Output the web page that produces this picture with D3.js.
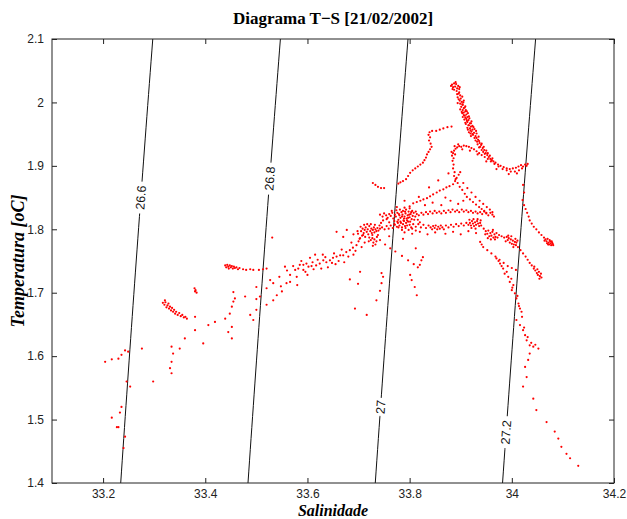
<!DOCTYPE html>
<html>
<head>
<meta charset="utf-8">
<script src="https://cdn.jsdelivr.net/npm/d3@7"></script>
<style>
  html, body { margin: 0; padding: 0; background: #fff; }
  svg { display: block; }
</style>
</head>
<body>
<div id="chart"></div>
<script>
// T-S diagram, 21/02/2002
const salTicks = [33.2, 33.4, 33.6, 33.8, 34, 34.2];
const tempTicks = [1.4, 1.5, 1.6, 1.7, 1.8, 1.9, 2, 2.1];
const isoLevels = [26.6, 26.8, 27, 27.2];
const isoLabelTemps = [1.85, 1.88, 1.52, 1.48];

// [salinity, temperature] pairs grouped by water mass feature
const peakBranch = [
  [33.883,2.028],[33.887,2.030],[33.891,2.029],[33.895,2.026],[33.885,2.024],[33.889,2.025],[33.893,2.022],[33.897,2.021],[33.887,2.020],[33.892,2.018],
  [33.896,2.014],[33.899,2.011],[33.894,2.008],[33.900,2.006],[33.898,2.003],[33.902,2.001],[33.899,1.998],[33.904,1.996],[33.901,1.993],[33.906,1.991],
  [33.904,1.988],[33.909,1.986],[33.906,1.984],[33.911,1.981],[33.908,1.979],[33.913,1.977],[33.911,1.974],[33.915,1.972],[33.913,1.969],[33.918,1.967],
  [33.916,1.964],[33.920,1.962],[33.918,1.959],[33.923,1.957],[33.921,1.954],[33.926,1.952],[33.924,1.949],[33.929,1.947],
  [33.905,2.000],[33.909,1.994],[33.912,1.986],[33.903,1.983],[33.916,1.978],[33.907,1.973],[33.921,1.970],[33.910,1.966],[33.925,1.961],[33.914,1.957],[33.930,1.955],[33.919,1.951],
  [33.931,1.944],[33.934,1.941],[33.932,1.938],[33.937,1.936],[33.940,1.933],[33.938,1.930],[33.943,1.928],[33.946,1.925],[33.944,1.922],[33.949,1.920],
  [33.952,1.917],[33.955,1.914],[33.958,1.911],[33.961,1.909],[33.964,1.907],[33.968,1.905],
  [33.973,1.902],[33.978,1.900],[33.984,1.898],[33.990,1.896],[33.996,1.895],[34.002,1.896],[34.008,1.897],[34.013,1.899],[34.018,1.901],[34.022,1.899],[34.026,1.902],[34.029,1.900],[34.031,1.903]
];
const peakFill = [
  [33.897,2.016],[33.893,2.013],[33.903,2.009],[33.896,2.005],[33.906,2.003],[33.894,1.999],[33.903,1.997],[33.908,1.992],[33.899,1.989],[33.910,1.988],
  [33.902,1.985],[33.914,1.983],[33.906,1.980],[33.909,1.976],[33.917,1.975],[33.904,1.977],[33.912,1.971],[33.920,1.967],[33.909,1.968],[33.915,1.964],
  [33.923,1.963],[33.913,1.960],[33.919,1.956],[33.927,1.958],[33.916,1.953],[33.923,1.950],[33.931,1.951],[33.920,1.947],[33.927,1.944],[33.935,1.946],
  [33.929,1.940],[33.936,1.939],[33.933,1.934],[33.941,1.935],[33.936,1.929],[33.945,1.930],[33.941,1.925],[33.950,1.924],[33.947,1.919],[33.953,1.920],
  [33.957,1.916],[33.962,1.912],[33.881,2.026],[33.890,2.032],[33.898,2.024],[33.884,2.021]
];
const archBranch = [
  [33.883,1.916],[33.885,1.920],[33.887,1.924],[33.890,1.927],[33.886,1.912],[33.889,1.918],[33.893,1.929],[33.897,1.931],[33.901,1.930],[33.906,1.932],
  [33.911,1.931],[33.916,1.930],[33.921,1.928],[33.926,1.926],[33.931,1.923],[33.936,1.920],[33.941,1.917],[33.947,1.914],[33.953,1.911],[33.959,1.907],
  [33.966,1.903],[33.974,1.899],[33.982,1.895],[33.990,1.893],[33.998,1.891],[34.006,1.891],[34.014,1.893],[34.020,1.896],
  [33.884,1.908],[33.886,1.902],[33.885,1.896],[33.888,1.890],[33.887,1.884],[33.890,1.879],
  [33.894,1.873],[33.898,1.867],[33.903,1.862],[33.908,1.856],[33.912,1.851],[33.918,1.847],[33.924,1.843],[33.930,1.839],[33.936,1.835],[33.941,1.832],[33.946,1.829],[33.950,1.826],
  [33.905,1.873],[33.913,1.865],[33.921,1.858],[33.929,1.851],[33.937,1.845],[33.944,1.840],[33.951,1.835],[33.957,1.831],[33.962,1.827],
  [33.882,1.922],[33.888,1.931],[33.895,1.934],[33.903,1.926],[33.918,1.924],[33.933,1.918],[33.950,1.907],[33.970,1.895],[33.994,1.887],[34.010,1.888]
];
const upperLeftArc = [
  [33.778,1.872],[33.782,1.874],[33.787,1.876],[33.793,1.879],[33.797,1.884],[33.801,1.889],[33.806,1.893],[33.811,1.896],[33.816,1.899],[33.821,1.902],
  [33.826,1.905],[33.829,1.909],[33.832,1.913],[33.834,1.918],[33.837,1.922],[33.840,1.926],[33.843,1.930],[33.841,1.935],[33.838,1.940],[33.840,1.945],
  [33.837,1.949],[33.839,1.953],[33.844,1.955],[33.852,1.955],[33.859,1.957],[33.866,1.959],[33.874,1.961],[33.882,1.962]
];
const midDiagonal = [
  [33.800,1.836],[33.807,1.841],[33.814,1.843],[33.821,1.845],[33.827,1.847],[33.834,1.849],[33.840,1.852],[33.846,1.855],[33.853,1.858],[33.859,1.861],
  [33.866,1.863],[33.872,1.866],[33.878,1.868],[33.885,1.871],[33.889,1.876],[33.892,1.881],[33.896,1.886],[33.899,1.890],
  [33.818,1.851],[33.838,1.866],[33.856,1.877],[33.876,1.888],[33.775,1.835],[33.790,1.845],
  [33.830,1.838],[33.845,1.842],[33.862,1.838],[33.880,1.845],[33.870,1.850],[33.895,1.840],[33.905,1.845]
];
const upperBand = [
  [33.742,1.823],[33.747,1.820],[33.750,1.825],[33.754,1.822],[33.757,1.818],[33.760,1.824],[33.763,1.821],[33.766,1.826],[33.768,1.817],[33.771,1.823],
  [33.773,1.820],[33.776,1.826],[33.778,1.815],[33.780,1.822],[33.782,1.818],[33.784,1.827],[33.786,1.823],[33.788,1.814],[33.790,1.820],[33.792,1.825],
  [33.794,1.817],[33.796,1.822],[33.798,1.828],[33.800,1.819],[33.802,1.824],[33.804,1.816],[33.806,1.821],[33.808,1.826],[33.811,1.820],[33.814,1.824],
  [33.779,1.824],[33.785,1.820],[33.791,1.828],[33.797,1.818],[33.803,1.827],
  [33.818,1.822],[33.823,1.826],[33.827,1.823],[33.832,1.827],[33.836,1.824],[33.840,1.828],[33.845,1.825],[33.849,1.829],[33.853,1.826],[33.858,1.828],
  [33.862,1.825],[33.867,1.829],[33.871,1.826],[33.876,1.830],[33.880,1.827],[33.884,1.831],[33.889,1.828],[33.893,1.830],[33.897,1.827],[33.902,1.831],
  [33.906,1.828],[33.911,1.830],[33.915,1.827],[33.920,1.829],[33.924,1.826],[33.929,1.828],[33.933,1.825],[33.938,1.827],[33.942,1.824],[33.946,1.828],
  [33.950,1.825],[33.954,1.822],[33.958,1.826],[33.962,1.823],[33.965,1.820]
];
const crossingBlob = [
  [33.765,1.829],[33.770,1.813],[33.774,1.830],[33.776,1.812],[33.781,1.831],[33.783,1.810],[33.787,1.829],[33.789,1.817],[33.793,1.831],[33.795,1.814],
  [33.799,1.823],[33.801,1.812],[33.805,1.829],[33.809,1.815],[33.812,1.828],[33.770,1.808],[33.778,1.803],[33.785,1.799],[33.792,1.802],[33.798,1.799],
  [33.805,1.801],[33.812,1.798],[33.760,1.811],[33.755,1.816],[33.748,1.814],[33.744,1.810],[33.816,1.815],[33.820,1.811],[33.790,1.834],[33.800,1.833],
  [33.704,1.804],[33.707,1.790],[33.711,1.807],[33.713,1.788],[33.717,1.808],[33.720,1.781],[33.724,1.808],[33.727,1.791],[33.732,1.807],[33.738,1.791],
  [33.741,1.806],[33.699,1.793],[33.702,1.785]
];
const lowerBand = [
  [33.705,1.797],[33.708,1.801],[33.710,1.794],[33.712,1.799],[33.714,1.803],[33.716,1.796],[33.718,1.800],[33.719,1.792],[33.721,1.805],[33.723,1.797],
  [33.725,1.801],[33.726,1.794],[33.728,1.799],[33.730,1.803],[33.731,1.795],[33.733,1.800],[33.735,1.797],[33.737,1.802],[33.739,1.798],[33.742,1.801],
  [33.721,1.787],[33.724,1.783],[33.727,1.786],[33.729,1.779],[33.731,1.784],[33.733,1.776],[33.735,1.781],[33.728,1.774],[33.736,1.788],
  [33.746,1.803],[33.751,1.800],[33.755,1.805],[33.759,1.801],[33.763,1.806],[33.767,1.802],[33.771,1.807],[33.775,1.804],[33.777,1.810],[33.780,1.806],
  [33.782,1.812],[33.785,1.803],[33.787,1.808],[33.789,1.813],[33.791,1.805],[33.793,1.810],[33.795,1.806],[33.797,1.812],[33.800,1.807],[33.803,1.803],
  [33.807,1.808],[33.812,1.804],[33.817,1.808],[33.822,1.803],[33.827,1.807],[33.832,1.802],[33.837,1.806],
  [33.841,1.803],[33.844,1.800],[33.846,1.805],[33.849,1.802],[33.851,1.806],[33.854,1.800],[33.856,1.804],[33.859,1.801],[33.861,1.806],[33.864,1.803],[33.867,1.800],
  [33.871,1.806],[33.876,1.803],[33.881,1.807],[33.886,1.804],[33.891,1.808],[33.896,1.805],[33.901,1.809],[33.906,1.806],[33.911,1.810],[33.915,1.807],
  [33.918,1.810],[33.920,1.806],[33.922,1.813],[33.924,1.809],[33.926,1.805],[33.928,1.811],[33.930,1.807],[33.932,1.813],[33.934,1.809],[33.936,1.805],[33.938,1.810],[33.940,1.806],
  [33.945,1.801],[33.949,1.797],[33.952,1.793],[33.954,1.798],[33.956,1.789],[33.958,1.794],[33.960,1.790],[33.962,1.796],[33.964,1.787],[33.966,1.792],[33.968,1.788],[33.970,1.794],
  [33.975,1.791],[33.980,1.789],[33.985,1.787],
  [33.990,1.788],[33.992,1.783],[33.994,1.786],[33.996,1.779],[33.998,1.784],[34.000,1.777],[34.002,1.782],[34.004,1.776],[34.006,1.780],[34.008,1.775],[34.009,1.779],
  [33.790,1.795],[33.805,1.793],[33.820,1.796],[33.835,1.792],[33.850,1.795],[33.870,1.793],[33.885,1.796],[33.900,1.792],[33.915,1.797],[33.930,1.794],
  [33.917,1.815],[33.925,1.816],[33.933,1.816],[33.939,1.814],[33.921,1.802],[33.929,1.801],[33.948,1.792],[33.953,1.786],[33.959,1.784],[33.963,1.799],
  [33.967,1.784],[33.972,1.787],[33.988,1.781],[33.993,1.790],[33.999,1.789],[34.003,1.772],[34.007,1.785],[34.011,1.782]
];
const rightBranch = [
  [34.022,1.870],[34.024,1.858],[34.021,1.846],[34.024,1.838],[34.027,1.832],[34.030,1.826],[34.033,1.820],[34.035,1.814],[34.039,1.809],[34.043,1.804],
  [34.048,1.800],[34.053,1.795],[34.058,1.791],[34.063,1.787],[34.066,1.784],[34.068,1.781],[34.070,1.785],[34.072,1.779],[34.074,1.783],[34.076,1.778],
  [34.078,1.781],[34.080,1.777],[34.071,1.776],[34.077,1.775],[34.069,1.778],[34.073,1.776],[34.075,1.781],[34.079,1.779],[34.081,1.775],[34.064,1.782]
];
const descending = [
  [34.012,1.772],[34.017,1.767],[34.022,1.762],[34.027,1.757],[34.031,1.752],[34.035,1.747],[34.039,1.743],[34.043,1.738],[34.046,1.735],[34.049,1.731],
  [34.051,1.728],[34.053,1.733],[34.055,1.726],[34.057,1.730],[34.058,1.724],[34.054,1.722],[34.050,1.737],[34.044,1.741],
  [33.938,1.780],[33.941,1.776],[33.944,1.772],[33.952,1.767],[33.960,1.762],[33.968,1.757],[33.976,1.752],[33.984,1.747],[33.992,1.742],[34.000,1.739],[34.008,1.736]
];
const steepBand = [
  [33.970,1.754],[33.977,1.746],[33.983,1.738],[33.986,1.730],[33.993,1.725],[33.996,1.717],[34.003,1.712],[34.000,1.704],[34.006,1.699],[34.009,1.691],
  [34.013,1.683],[34.016,1.675],[34.019,1.670],[34.009,1.657],[34.016,1.649],[34.022,1.641],[34.026,1.633],[34.029,1.625],[34.035,1.617],[34.042,1.615],
  [34.052,1.612],[34.035,1.604],[34.032,1.594],
  [33.974,1.750],[33.980,1.742],[33.990,1.733],[33.999,1.722],[34.001,1.708],[34.011,1.695],[34.014,1.679],[34.020,1.662],[34.024,1.645],[34.031,1.630],[34.038,1.621],[34.046,1.618]
];
const deepTail = [
  [34.026,1.583],[34.029,1.567],[34.022,1.552],[34.042,1.533],[34.048,1.515],[34.068,1.496],[34.084,1.481],[34.091,1.470],[34.097,1.457],[34.107,1.446],[34.114,1.439],[34.130,1.427]
];
const midScatter = [
  [33.683,1.721],[33.699,1.714],[33.693,1.675],[33.716,1.665],[33.703,1.733],[33.735,1.688],[33.742,1.703],[33.745,1.715],[33.748,1.725],[33.745,1.731],
  [33.801,1.728],[33.810,1.709],[33.814,1.696],[33.820,1.744],[33.823,1.751],[33.804,1.720],[33.742,1.783],[33.752,1.776],[33.762,1.770],[33.772,1.765],
  [33.785,1.758],[33.797,1.751],[33.808,1.745],[33.816,1.740],[33.826,1.756],[33.812,1.770],[33.787,1.785],[33.760,1.789],
  [33.728,1.873],[33.733,1.870],[33.738,1.867],[33.744,1.865],[33.750,1.865],[33.531,1.787]
];
const shelfBand = [
  [33.494,1.657],[33.500,1.673],[33.507,1.694],[33.500,1.709],[33.520,1.681],[33.520,1.707],[33.533,1.688],[33.533,1.715],[33.540,1.696],[33.550,1.702],
  [33.556,1.741],[33.559,1.715],[33.566,1.717],[33.566,1.728],[33.576,1.736],[33.579,1.725],[33.582,1.738],[33.592,1.736],[33.592,1.744],[33.598,1.746],
  [33.602,1.741],[33.585,1.744],[33.610,1.748],[33.617,1.743],[33.624,1.746],[33.631,1.751],[33.637,1.748],[33.644,1.751],[33.650,1.755],[33.657,1.757],
  [33.664,1.759],[33.670,1.759],[33.676,1.764],[33.683,1.767],[33.689,1.771],[33.696,1.775],[33.700,1.781],[33.703,1.786],[33.709,1.791],[33.657,1.796],
  [33.670,1.788],[33.677,1.799],[33.690,1.792],[33.698,1.797],[33.640,1.740],[33.655,1.745],[33.612,1.737],[33.630,1.760],[33.672,1.748],[33.690,1.760],[33.605,1.755],
  [33.560,1.735],[33.572,1.742],[33.588,1.750],[33.596,1.733],[33.608,1.742],[33.620,1.752],[33.627,1.738],[33.635,1.756],[33.648,1.747],[33.652,1.762],
  [33.661,1.750],[33.667,1.768],[33.680,1.757],[33.686,1.779],[33.694,1.766],[33.706,1.772],[33.712,1.779],[33.580,1.712],[33.600,1.728],[33.615,1.760],
  [33.545,1.725],[33.527,1.720],[33.548,1.710]
];
const cluster174 = [
  [33.439,1.743],[33.441,1.740],[33.443,1.744],[33.445,1.741],[33.446,1.738],[33.448,1.743],[33.450,1.740],[33.452,1.742],[33.454,1.738],[33.456,1.741],
  [33.458,1.739],[33.461,1.740],[33.464,1.737],[33.467,1.739],[33.474,1.737],[33.480,1.736],[33.488,1.737],[33.494,1.736],[33.505,1.736],[33.513,1.737],[33.520,1.738]
];
const cluster167 = [
  [33.317,1.684],[33.320,1.681],[33.322,1.685],[33.324,1.677],[33.326,1.680],[33.328,1.683],[33.329,1.675],[33.331,1.678],[33.333,1.672],[33.335,1.676],
  [33.337,1.670],[33.339,1.673],[33.341,1.667],[33.343,1.670],[33.346,1.665],[33.349,1.668],[33.352,1.663],[33.355,1.665],[33.358,1.661],[33.361,1.662],
  [33.364,1.659],[33.321,1.688],[33.379,1.707],[33.381,1.704],[33.383,1.700],[33.380,1.702]
];
const leftScatter = [
  [33.439,1.659],[33.448,1.667],[33.452,1.678],[33.455,1.686],[33.458,1.691],[33.455,1.701],[33.445,1.638],[33.452,1.628],[33.452,1.646],[33.406,1.649],
  [33.419,1.654],[33.396,1.620],[33.380,1.641],[33.380,1.662],[33.360,1.628],[33.350,1.612],[33.334,1.615],[33.337,1.604],[33.334,1.591],[33.331,1.581],
  [33.334,1.573],[33.298,1.560],[33.276,1.612],[33.478,1.694],[33.488,1.665],[33.500,1.690],
  [33.204,1.591],[33.217,1.595],[33.230,1.596],[33.236,1.602],[33.243,1.609],[33.249,1.607],[33.246,1.560],[33.253,1.552],[33.236,1.520],[33.233,1.511],
  [33.217,1.503],[33.227,1.488],[33.230,1.488],[33.243,1.473],[33.240,1.455]
];

const allPoints = [].concat(peakBranch, peakFill, archBranch, upperLeftArc, midDiagonal, upperBand, crossingBlob, lowerBand,
  rightBranch, descending, steepBand, deepTail, midScatter, shelfBand, cluster174, cluster167, leftScatter);

// UNESCO (EOS-80) one-atmosphere density, sigma-t
function sigmaT(S, T) {
  const rw = 999.842594 + 6.793952e-2 * T - 9.095290e-3 * T * T + 1.001685e-4 * Math.pow(T, 3)
    - 1.120083e-6 * Math.pow(T, 4) + 6.536332e-9 * Math.pow(T, 5);
  const A = 8.24493e-1 - 4.0899e-3 * T + 7.6438e-5 * T * T - 8.2467e-7 * Math.pow(T, 3) + 5.3875e-9 * Math.pow(T, 4);
  const B = -5.72466e-3 + 1.0227e-4 * T - 1.6546e-6 * T * T;
  return rw + A * S + B * Math.pow(S, 1.5) + 4.8314e-4 * S * S - 1000;
}
// salinity on a given isopycnal at temperature T (bisection)
function salinityFor(sig, T) {
  let lo = 30, hi = 37;
  for (let i = 0; i < 50; i++) {
    const mid = (lo + hi) / 2;
    if (sigmaT(mid, T) < sig) lo = mid; else hi = mid;
  }
  return (lo + hi) / 2;
}

const width = 627, height = 519;
const margin = { top: 39, right: 13, bottom: 36, left: 52 };

const x = d3.scaleLinear().domain([33.1, 34.2]).range([margin.left, width - margin.right]);
const y = d3.scaleLinear().domain([1.4, 2.1]).range([height - margin.bottom, margin.top]);

const svg = d3.select('#chart').append('svg')
  .attr('width', width)
  .attr('height', height)
  .style('font-family', '"Liberation Sans", Arial, sans-serif');

svg.append('clipPath').attr('id', 'plot')
  .append('rect')
  .attr('x', x(33.1)).attr('y', y(2.1))
  .attr('width', x(34.2) - x(33.1)).attr('height', y(1.4) - y(2.1));

// isopycnals
const tSteps = d3.range(0, 41).map(i => 1.4 + i * 0.7 / 40);
const iso = svg.append('g').attr('clip-path', 'url(#plot)');
const line = d3.line().x(d => x(d[0])).y(d => y(d[1]));

isoLevels.forEach(lev => {
  const pts = tSteps.map(t => [salinityFor(lev, t), t]);
  iso.append('path')
    .attr('d', line(pts))
    .attr('fill', 'none')
    .attr('stroke', '#111')
    .attr('stroke-width', 1);
});

// scatter
svg.append('g').attr('clip-path', 'url(#plot)')
  .selectAll('circle')
  .data(allPoints)
  .enter()
  .append('circle')
  .attr('cx', d => x(d[0]))
  .attr('cy', d => y(d[1]))
  .attr('r', 1.1)
  .attr('fill', '#ff0000');

// isopycnal labels with a gap in the line
isoLevels.forEach((lev, i) => {
  const t = isoLabelTemps[i];
  const px = x(salinityFor(lev, t)), py = y(t);
  const p2x = x(salinityFor(lev, t + 0.05)), p2y = y(t + 0.05);
  const ang = Math.atan2(p2y - py, p2x - px) * 180 / Math.PI;
  const g = svg.append('g').attr('transform', 'translate(' + px + ',' + py + ') rotate(' + ang + ')');
  const label = String(lev);
  const w = label.length * 7 + 4;
  g.append('rect').attr('x', -w / 2).attr('y', -6).attr('width', w).attr('height', 12).attr('fill', '#fff');
  g.append('text')
    .attr('text-anchor', 'middle')
    .attr('dy', '0.35em')
    .attr('font-size', 12.5)
    .attr('fill', '#111')
    .text(label);
});

// axes, ticks inside on all four sides
const tickFmt = d => String(+d.toFixed(1));
svg.append('g')
  .attr('transform', 'translate(0,' + y(1.4) + ')')
  .call(d3.axisBottom(x).tickValues(salTicks).tickFormat(tickFmt).tickSizeInner(-5).tickSizeOuter(0).tickPadding(6))
  .call(g => g.selectAll('text').attr('font-size', 12).attr('fill', '#222').style('font-family', '"Liberation Sans", Arial, sans-serif'));
svg.append('g')
  .attr('transform', 'translate(0,' + y(2.1) + ')')
  .call(d3.axisTop(x).tickValues(salTicks).tickFormat('').tickSizeInner(-5).tickSizeOuter(0));
svg.append('g')
  .attr('transform', 'translate(' + x(33.1) + ',0)')
  .call(d3.axisLeft(y).tickValues(tempTicks).tickFormat(tickFmt).tickSizeInner(-5).tickSizeOuter(0).tickPadding(8))
  .call(g => g.selectAll('text').attr('font-size', 12).attr('fill', '#222').style('font-family', '"Liberation Sans", Arial, sans-serif'));
svg.append('g')
  .attr('transform', 'translate(' + x(34.2) + ',0)')
  .call(d3.axisRight(y).tickValues(tempTicks).tickFormat('').tickSizeInner(-5).tickSizeOuter(0));
svg.selectAll('.domain').remove();
svg.selectAll('.tick line').attr('stroke', '#222');

svg.append('rect')
  .attr('x', x(33.1)).attr('y', y(2.1))
  .attr('width', x(34.2) - x(33.1)).attr('height', y(1.4) - y(2.1))
  .attr('fill', 'none').attr('stroke', '#222').attr('stroke-width', 1);

// titles
svg.append('text')
  .attr('x', (x(33.1) + x(34.2)) / 2).attr('y', 24)
  .attr('text-anchor', 'middle')
  .style('font-family', '"Liberation Serif", "Times New Roman", serif')
  .attr('font-weight', 'bold').attr('font-size', 17)
  .text('Diagrama T\u2212S [21/02/2002]');
svg.append('text')
  .attr('x', (x(33.1) + x(34.2)) / 2).attr('y', 516)
  .attr('text-anchor', 'middle')
  .style('font-family', '"Liberation Serif", "Times New Roman", serif')
  .attr('font-weight', 'bold').attr('font-style', 'italic').attr('font-size', 16)
  .text('Salinidade');
svg.append('text')
  .attr('transform', 'translate(24,' + (y(1.4) + y(2.1)) / 2 + ') rotate(-90)')
  .attr('text-anchor', 'middle')
  .style('font-family', '"Liberation Serif", "Times New Roman", serif')
  .attr('font-weight', 'bold').attr('font-style', 'italic').attr('font-size', 18)
  .text('Temperatura [oC]');
</script>
</body>
</html>
